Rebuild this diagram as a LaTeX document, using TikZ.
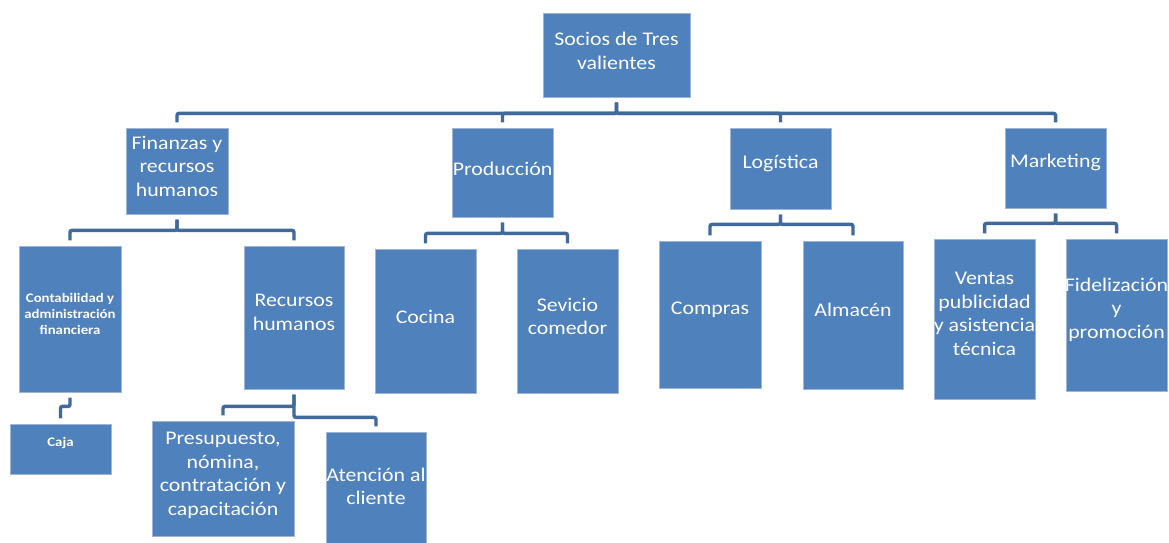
\documentclass[tikz,border=0pt]{standalone}
\usepackage{fontspec}
\setmainfont{Carlito}[FakeStretch=1.13]
\definecolor{boxblue}{HTML}{4F81BD}
\definecolor{lineblue}{HTML}{40699C}
\definecolor{edgeblue}{HTML}{9DB6DA}
\begin{document}
\begin{tikzpicture}[x=0.75pt,y=-0.75pt,
  box/.style={rectangle, fill=boxblue, draw=edgeblue, line width=0.6pt, inner sep=0pt},
  txt/.style={text=white, align=center, inner sep=0pt, font=\fontsize{14.5}{17.6}\selectfont},
  smalltxt/.style={text=white, align=center, inner sep=0pt, font=\fontsize{9.8}{12}\selectfont\bfseries},
  conn/.style={draw=lineblue, line width=2.6pt, rounded corners=1.5pt, shorten <=4pt, shorten >=4pt}]
\useasboundingbox (0,0) rectangle (1169,542);
\clip (0,0) rectangle (1169,542);
% boxes
\node[box, minimum width=147*0.75pt, minimum height=84*0.75pt] (root) at (616.5,55) {};
\node[box, minimum width=102*0.75pt, minimum height=86*0.75pt] (fin) at (177,171) {};
\node[box, minimum width=101*0.75pt, minimum height=89*0.75pt] (prod) at (502.5,172.5) {};
\node[box, minimum width=101*0.75pt, minimum height=81*0.75pt] (log) at (780.5,168.5) {};
\node[box, minimum width=101*0.75pt, minimum height=80*0.75pt] (mkt) at (1055.5,168) {};
\node[box, minimum width=102*0.75pt, minimum height=146*0.75pt] (contab) at (70,319) {};
\node[box, minimum width=100*0.75pt, minimum height=143*0.75pt] (rh) at (294,317.5) {};
\node[box, minimum width=101*0.75pt, minimum height=144*0.75pt] (cocina) at (425.5,321) {};
\node[box, minimum width=101*0.75pt, minimum height=144*0.75pt] (sevicio) at (567.5,321) {};
\node[box, minimum width=102*0.75pt, minimum height=147*0.75pt] (compras) at (710,314.5) {};
\node[box, minimum width=100*0.75pt, minimum height=148*0.75pt] (almacen) at (853,315) {};
\node[box, minimum width=101*0.75pt, minimum height=160*0.75pt] (ventas) at (984.5,319) {};
\node[box, minimum width=101*0.75pt, minimum height=152*0.75pt] (fidel) at (1116.5,315) {};
\node[box, minimum width=101*0.75pt, minimum height=50*0.75pt] (caja) at (60.5,449) {};
\node[box, minimum width=142*0.75pt, minimum height=115*0.75pt] (pres) at (223,478.5) {};
\node[box, minimum width=100*0.75pt, minimum height=118*0.75pt] (aten) at (376,491) {};
% texts
\node[txt] (root-t) at ([yshift=3pt]root.center) {Socios de Tres\\valientes};
\node[txt] (fin-t) at ([yshift=3.5pt]fin.center) {Finanzas y\\recursos\\humanos};
\node[txt] (prod-t) at ([yshift=3pt]prod.center) {Producción};
\node[txt] (log-t) at ([yshift=3.5pt]log.center) {Logística};
\node[txt] (mkt-t) at ([yshift=4.5pt]mkt.center) {Marketing};
\node[smalltxt] (contab-t) at ([yshift=4pt]contab.center) {Contabilidad y\\administración\\financiera};
\node[txt] (rh-t) at ([yshift=4pt]rh.center) {Recursos\\humanos};
\node[txt] (cocina-t) at ([yshift=3pt]cocina.center) {Cocina};
\node[txt] (sevicio-t) at ([yshift=3.5pt]sevicio.center) {Sevicio\\comedor};
\node[txt] (compras-t) at ([yshift=3.5pt]compras.center) {Compras};
\node[txt] (almacen-t) at ([yshift=3.5pt]almacen.center) {Almacén};
\node[txt] (ventas-t) at ([yshift=4pt]ventas.center) {Ventas\\publicidad\\y asistencia\\técnica};
\node[txt] (fidel-t) at ([yshift=4pt]fidel.center) {Fidelización\\y\\promoción};
\node[smalltxt] (caja-t) at ([yshift=4.5pt]caja.center) {Caja};
\node[txt] (pres-t) at ([yshift=2.5pt]pres.center) {Presupuesto,\\nómina,\\contratación y\\capacitación};
\node[txt] (aten-t) at ([yshift=3.5pt]aten.center) {Atención al\\cliente};
% connectors
\draw[conn] (root.south) -- ++(0,16) -| (fin.north);
\draw[conn] (root.south) -- ++(0,16) -| (prod.north);
\draw[conn] (root.south) -- ++(0,16) -| (log.north);
\draw[conn] (root.south) -- ++(0,16) -| (mkt.north);
\draw[conn] (fin.south) -- ++(0,16) -| (contab.north);
\draw[conn] (fin.south) -- ++(0,16) -| (rh.north);
\draw[conn] (prod.south) -- ++(0,16) -| (cocina.north);
\draw[conn] (prod.south) -- ++(0,16) -| (sevicio.north);
\draw[conn] (log.south) -- ++(0,15) -| (compras.north);
\draw[conn] (log.south) -- ++(0,15) -| (almacen.north);
\draw[conn] (mkt.south) -- ++(0,15) -| (ventas.north);
\draw[conn] (mkt.south) -- ++(0,15) -| (fidel.north);
\draw[conn] (contab.south) -- ++(0,14) -| (caja.north);
\draw[conn] (rh.south) -- ++(0,17) -| (pres.north);
\draw[conn] (rh.south) -- ++(0,28) -| (aten.north);
\end{tikzpicture}
\end{document}
